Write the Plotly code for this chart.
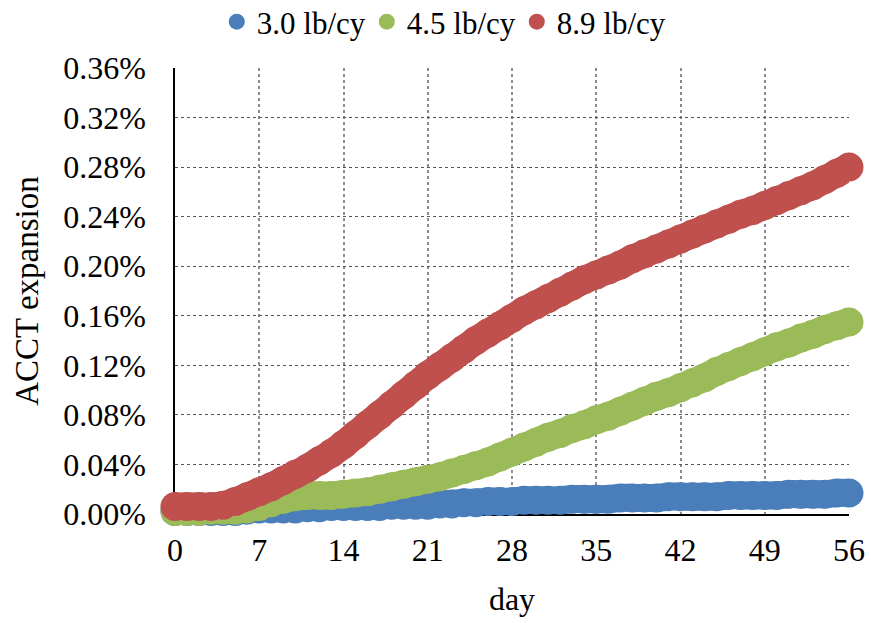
import plotly.graph_objects as go

# Expansion readings (percent) for each day of the test
days = list(range(0, 57))

exp_3_0 = [0.002, 0.002, 0.002, 0.002, 0.002, 0.002, 0.003, 0.004, 0.004, 0.004,
           0.004, 0.005, 0.005, 0.006, 0.006, 0.006, 0.006, 0.006, 0.007, 0.007,
           0.007, 0.007, 0.008, 0.008, 0.009, 0.009, 0.010, 0.010, 0.010, 0.011,
           0.011, 0.011, 0.011, 0.012, 0.012, 0.012, 0.012, 0.013, 0.013, 0.013,
           0.013, 0.014, 0.014, 0.014, 0.014, 0.014, 0.015, 0.015, 0.015, 0.015,
           0.015, 0.016, 0.016, 0.016, 0.016, 0.017, 0.017]

exp_4_5 = [0.002, 0.002, 0.002, 0.003, 0.003, 0.003, 0.004, 0.006, 0.009, 0.012,
           0.014, 0.015, 0.015, 0.015, 0.016, 0.017, 0.018, 0.020, 0.022, 0.024,
           0.026, 0.028, 0.030, 0.033, 0.036, 0.039, 0.042, 0.046, 0.050, 0.054,
           0.058, 0.062, 0.065, 0.069, 0.072, 0.076, 0.079, 0.083, 0.087, 0.091,
           0.095, 0.098, 0.102, 0.106, 0.110, 0.115, 0.119, 0.123, 0.127, 0.131,
           0.135, 0.138, 0.142, 0.145, 0.149, 0.152, 0.155]

exp_8_9 = [0.006, 0.006, 0.006, 0.006, 0.007, 0.010, 0.014, 0.018, 0.022, 0.027,
           0.032, 0.037, 0.043, 0.049, 0.056, 0.064, 0.072, 0.080, 0.088, 0.096,
           0.104, 0.112, 0.119, 0.126, 0.133, 0.140, 0.146, 0.152, 0.158, 0.164,
           0.169, 0.174, 0.179, 0.184, 0.189, 0.193, 0.197, 0.201, 0.206, 0.210,
           0.214, 0.218, 0.222, 0.226, 0.230, 0.234, 0.238, 0.242, 0.245, 0.249,
           0.253, 0.257, 0.261, 0.265, 0.270, 0.275, 0.280]

series_names = ["3.0 lb/cy", "4.5 lb/cy", "8.9 lb/cy"]
series_values = [exp_3_0, exp_4_5, exp_8_9]
series_colors = ["#4A7EBB", "#9BBB59", "#C0504D"]

x_ticks = [0, 7, 14, 21, 28, 35, 42, 49, 56]
y_ticks = [0.00, 0.04, 0.08, 0.12, 0.16, 0.20, 0.24, 0.28, 0.32, 0.36]

FONT = "Liberation Serif"

fig = go.Figure()
for name, vals, color in zip(series_names, series_values, series_colors):
    # thick band joining the readings, then the round markers on top
    fig.add_trace(go.Scatter(
        x=days, y=vals, name=name, mode="lines", legendgroup=name,
        showlegend=False, line=dict(color=color, width=28, shape="spline"),
        cliponaxis=False, hoverinfo="skip",
    ))
    fig.add_trace(go.Scatter(
        x=days, y=vals, name=name, mode="markers", legendgroup=name,
        marker=dict(color=color, size=29, line=dict(width=0)),
        cliponaxis=False,
    ))

fig.update_layout(
    width=871, height=623,
    margin=dict(l=175, r=22, t=68, b=109, autoexpand=False),
    paper_bgcolor="white", plot_bgcolor="white",
    font=dict(family=FONT, size=32, color="black"),
    showlegend=True,
    legend=dict(
        orientation="h", x=0.062, xanchor="left", y=1.103, yanchor="middle",
        font=dict(family=FONT, size=31, color="black"),
        itemsizing="trace", entrywidth=105, entrywidthmode="pixels",
        bgcolor="rgba(0,0,0,0)",
    ),
    xaxis=dict(
        range=[0, 56], tickvals=x_ticks, ticktext=[str(t) for t in x_ticks],
        showline=True, linecolor="black", linewidth=1.5, mirror=False,
        layer="below traces",
        showgrid=True, gridcolor="#8c8c8c", gridwidth=2, griddash="dot",
        zeroline=False, ticks="", ticklabelstandoff=7,
        tickfont=dict(family=FONT, size=32),
        title=dict(text="day", font=dict(family=FONT, size=32), standoff=20),
    ),
    yaxis=dict(
        range=[0, 0.36], tickvals=y_ticks,
        ticktext=[f"{v:.2f}%" for v in y_ticks],
        showline=True, linecolor="black", linewidth=1.5, mirror=False,
        layer="below traces",
        showgrid=True, gridcolor="#555555", gridwidth=1, griddash="dot",
        zeroline=False, ticks="", ticklabelstandoff=21,
        tickfont=dict(family=FONT, size=32),
        title=dict(text="ACCT expansion", font=dict(family=FONT, size=33), standoff=15),
    ),
)

fig.write_html("out.html")
